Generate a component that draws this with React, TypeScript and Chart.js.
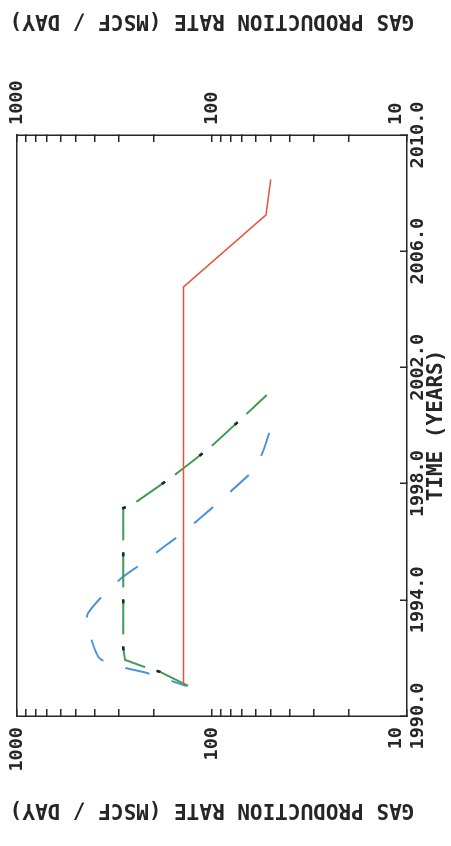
import React, { useEffect, useRef } from 'react';
import { Chart, registerables } from 'chart.js';

Chart.register(...registerables);

// ---- axis definitions ----
const YEAR_MIN = 1990;
const YEAR_MAX = 2010;
const YEAR_STEP = 4;
const RATE_MIN = 10;
const RATE_MAX = 1000;
const RATE_TICKS = [10, 20, 30, 40, 50, 60, 70, 80, 90, 100, 200, 300, 400, 500, 600, 700, 800, 900, 1000];
const RATE_LABELS = [10, 100, 1000];
const RATE_TITLE = 'GAS PRODUCTION RATE (MSCF / DAY)';
const TIME_TITLE = 'TIME (YEARS)';

// ---- series (time in years, rate in MSCF/day) ----
const RED_YEARS = [1991.07, 2004.77, 2007.25, 2008.47];
const RED_RATE = [140, 140, 52.8, 50];

const BLUE_YEARS = [1991.03, 1991.49, 1991.7, 1991.99, 1992.79, 1993.2, 1993.56, 1994.22, 1994.8, 1995.28, 1995.77, 1996.28, 1996.81, 1997.38, 1997.92, 1998.53, 1999.12, 1999.75];
const BLUE_RATE = [135, 218, 296, 378, 423, 440, 431, 354, 285, 225, 181, 143, 115, 91.8, 74.7, 60.1, 54.7, 50.8];

const GREEN_YEARS = [1991.04, 1991.52, 1991.64, 1991.93, 1992.33, 1997.16, 1997.26, 1998.22, 1998.53, 1999.25, 2000.4, 2001.05];
const GREEN_RATE = [132.5, 185, 212, 279, 285, 285, 258, 161, 140, 102, 66.4, 52.4];

const pts = (xs: number[], ys: number[]) => xs.map((x, i) => ({ x, y: ys[i] }));

export default function App() {
  const ref = useRef<HTMLCanvasElement>(null);

  useEffect(() => {
    const canvas = ref.current;
    if (!canvas) return;
    const axisColor = '#262626';
    const family = "'DejaVu Sans Mono', monospace";
    const tickFont = { family, size: 18.5, weight: 'bold' as const };
    const titleFont = { family, size: 21, weight: 'bold' as const };

    const rightTitle = {
      id: 'rightTitle',
      afterDraw(chart: any) {
        const { ctx, chartArea } = chart;
        ctx.save();
        ctx.translate(826, (chartArea.top + chartArea.bottom) / 2);
        ctx.rotate(-Math.PI / 2);
        ctx.font = `bold 21px ${family}`;
        ctx.fillStyle = axisColor;
        ctx.textAlign = 'center';
        ctx.textBaseline = 'middle';
        ctx.fillText(RATE_TITLE, 0, 0);
        ctx.restore();
      },
    };

    const logTicks = (scale: any) => {
      scale.ticks = RATE_TICKS.map((v) => ({ value: v }));
    };
    // the lowest decade label sits beside its tick (second empty line lifts it clear of the corner)
    const logLabel = (v: any) => {
      const n = Number(v);
      if (!RATE_LABELS.includes(n)) return '';
      return n === RATE_MIN ? [String(n), ''] : String(n);
    };
    const fixY = (w: number) => (s: any) => {
      s.width = w;
      s.paddingTop = 0;
      s.paddingBottom = 0;
    };
    const grid = { drawOnChartArea: false, drawTicks: true, tickLength: -7, color: axisColor, lineWidth: 1.5 };
    const border = { display: true, color: axisColor, width: 1.5 };

    const chart = new Chart(canvas, {
      type: 'line',
      data: {
        datasets: [
          {
            label: 'red',
            data: pts(RED_YEARS, RED_RATE),
            borderColor: '#e65540',
            borderWidth: 1.6,
            pointRadius: 0,
            tension: 0,
          },
          {
            label: 'green-marks',
            data: pts(GREEN_YEARS, GREEN_RATE),
            borderColor: '#1e2a20',
            borderWidth: 2.6,
            borderDash: [4, 43],
            borderDashOffset: 16,
            pointRadius: 0,
            tension: 0,
          },
          {
            label: 'green',
            data: pts(GREEN_YEARS, GREEN_RATE),
            borderColor: '#3f9c52',
            borderWidth: 2,
            borderDash: [35, 12],
            pointRadius: 0,
            tension: 0,
          },
          {
            label: 'blue',
            data: pts(BLUE_YEARS, BLUE_RATE),
            borderColor: '#4a93dc',
            borderWidth: 2,
            borderDash: [25, 23],
            borderDashOffset: 9,
            pointRadius: 0,
            tension: 0.25,
          },
        ],
      },
      options: {
        responsive: false,
        animation: false,
        events: [],
        layout: { padding: 0 },
        plugins: { legend: { display: false }, tooltip: { enabled: false } },
        scales: {
          x: {
            type: 'linear',
            position: 'bottom',
            min: YEAR_MIN,
            max: YEAR_MAX,
            ticks: {
              stepSize: YEAR_STEP,
              autoSkip: false,
              maxRotation: 0,
              minRotation: 0,
              padding: 7,
              color: axisColor,
              font: tickFont,
              callback: (v: any) => Number(v).toFixed(1),
            },
            grid,
            border,
            title: { display: true, text: TIME_TITLE, color: axisColor, font: titleFont, padding: { top: 0, bottom: 2 } },
            afterFit: (s: any) => {
              s.height = 44;
            },
          },
          x2: {
            type: 'linear',
            position: 'top',
            min: YEAR_MIN,
            max: YEAR_MAX,
            ticks: { display: false },
            grid: { drawOnChartArea: false, drawTicks: false },
            border,
            afterFit: (s: any) => {
              s.height = 17;
            },
          },
          y: {
            type: 'logarithmic',
            position: 'left',
            min: RATE_MIN,
            max: RATE_MAX,
            afterBuildTicks: logTicks,
            ticks: { autoSkip: false, padding: 18, color: axisColor, font: tickFont, callback: logLabel },
            grid,
            border,
            title: { display: true, text: RATE_TITLE, color: axisColor, font: titleFont, padding: { top: 24, bottom: 0 } },
            afterFit: fixY(130),
          },
          y2: {
            type: 'logarithmic',
            position: 'right',
            min: RATE_MIN,
            max: RATE_MAX,
            afterBuildTicks: logTicks,
            ticks: { autoSkip: false, padding: 17, color: axisColor, font: tickFont, callback: logLabel },
            grid,
            border,
            afterFit: fixY(135),
          },
        },
      } as any,
      plugins: [rightTitle],
    });
    return () => chart.destroy();
  }, []);

  return (
    <div style={{ position: 'fixed', left: 0, top: 0, width: 451, height: 846, overflow: 'hidden', background: '#fff' }}>
      <div
        style={{
          position: 'absolute',
          left: 0,
          top: 0,
          width: 846,
          height: 451,
          transformOrigin: '0 0',
          transform: 'translate(0px, 846px) rotate(-90deg)',
        }}
      >
        <canvas ref={ref} width={846} height={451} style={{ display: 'block', width: 846, height: 451 }} />
      </div>
    </div>
  );
}
